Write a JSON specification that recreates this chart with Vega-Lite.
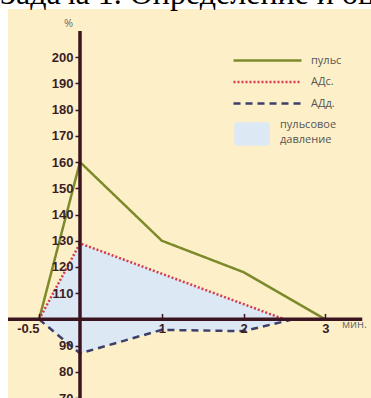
{
  "$schema": "https://vega.github.io/schema/vega-lite/v6.json",
  "width": 363,
  "height": 389,
  "autosize": {"type": "none"},
  "padding": {"left": 8, "top": 9, "right": 0, "bottom": 0},
  "background": "white",
  "title": {"text": "Задача 1. Определение и оценка", "anchor": "start", "frame": "group", "font": "Liberation Serif", "fontSize": 32, "fontWeight": "normal", "color": "#000000", "dx": -8, "dy": 2, "offset": 0},
  "config": {
    "view": {"fill": "#fdf0c8", "stroke": null},
    "axis": {"grid": false, "domain": false, "labelOverlap": false, "labelFont": "Liberation Sans", "labelFontWeight": "bold", "labelFontSize": 13, "labelColor": "#3b1e25", "tickColor": "#3a1520", "tickWidth": 1.5, "titleFont": "Open Sans", "titleFontWeight": "normal", "titleFontSize": 11, "titleColor": "#6a6a6a"}
  },
  "datasets": {
    "lines": [
      {"series": "пульс", "t": -0.5, "v": 100},
      {"series": "пульс", "t": 0, "v": 160},
      {"series": "пульс", "t": 1, "v": 130},
      {"series": "пульс", "t": 2, "v": 118},
      {"series": "пульс", "t": 3, "v": 100},
      {"series": "АДс.", "t": -0.5, "v": 100},
      {"series": "АДс.", "t": 0, "v": 129},
      {"series": "АДс.", "t": 2.5, "v": 100},
      {"series": "АДд.", "t": -0.5, "v": 100},
      {"series": "АДд.", "t": 0, "v": 87},
      {"series": "АДд.", "t": 1, "v": 96},
      {"series": "АДд.", "t": 2, "v": 95.5},
      {"series": "АДд.", "t": 2.6, "v": 100}
    ],
    "pulsePressure": [
      {"i": 1, "t": -0.5, "v": 100},
      {"i": 2, "t": 0, "v": 129},
      {"i": 3, "t": 2.5, "v": 100},
      {"i": 4, "t": 2.6, "v": 100},
      {"i": 5, "t": 2, "v": 95.5},
      {"i": 6, "t": 1, "v": 96},
      {"i": 7, "t": 0, "v": 87},
      {"i": 8, "t": -0.5, "v": 100}
    ],
    "one": [{}]
  },
  "layer": [
    {
      "data": {"name": "pulsePressure"},
      "mark": {"type": "line", "fill": "#dce8f4", "strokeOpacity": 0},
      "encoding": {
        "x": {"field": "t", "type": "quantitative", "scale": {"domain": [-0.88, 3.557], "nice": false, "zero": false}},
        "y": {"field": "v", "type": "quantitative", "scale": {"domain": [70, 218.4], "nice": false, "zero": false}},
        "order": {"field": "i", "type": "quantitative"}
      }
    },
    {
      "data": {"name": "lines"},
      "mark": {"type": "line", "strokeWidth": 2.5},
      "encoding": {
        "x": {"field": "t", "type": "quantitative", "scale": {"domain": [-0.88, 3.557], "nice": false, "zero": false},
          "axis": {"orient": "bottom", "offset": -78.6, "zindex": 3, "labelOverlap": false, "values": [-0.5, 1, 2, 3], "tickCount": 20, "format": "~g", "tickSize": -6, "labelPadding": 9.5, "labelFlush": false,
            "labelAlign": {"condition": {"test": "datum.value < 0", "value": "right"}, "value": "center"},
            "labelExpr": "replace(datum.label, '−', '-')",
            "title": "мин.", "titleX": 346, "titleY": 5, "titleAlign": "center", "titleBaseline": "middle"}},
        "y": {"field": "v", "type": "quantitative", "scale": {"domain": [70, 218.4], "nice": false, "zero": false},
          "axis": {"orient": "left", "offset": -72, "zindex": 3, "labelOverlap": false, "values": [70, 80, 90, 110, 120, 130, 140, 150, 160, 170, 180, 190, 200], "tickCount": 20, "tickSize": 5, "labelPadding": 2,
            "title": "%", "titleAngle": 0, "titleX": -12, "titleY": 14, "titleAlign": "center", "titleBaseline": "middle"}},
        "color": {"field": "series", "type": "nominal",
          "scale": {"domain": ["пульс", "АДс.", "АДд.", "пульсовое давление"], "range": ["#7d8a2b", "#d63a4f", "#3d3f6b", "#dce8f4"]},
          "legend": {"orient": "none", "legendX": 253, "legendY": 45, "title": null, "symbolSize": 100, "symbolStrokeWidth": 2.5,
            "labelFont": "Open Sans", "labelFontSize": 11, "labelColor": "#555555", "labelOffset": 37, "rowPadding": 9.5, "padding": 0,
            "labelExpr": "datum.label == 'пульсовое давление' ? ['пульсовое', 'давление'] : datum.label",
            "encode": {
              "symbols": {"update": {
                "shape": {"signal": "datum.value == 'пульсовое давление' ? 'M-6.4,-2.1H0.2V2.1H-6.4Z' : 'M-6.8,0H6.8'"},
                "fill": {"signal": "datum.value == 'пульсовое давление' ? '#dce8f4' : 'transparent'"},
                "dy": {"signal": "datum.value == 'пульсовое давление' ? -3 : 0"}}},
              "labels": {"update": {
                "dx": {"signal": "datum.value == 'пульсовое давление' ? -31 : 0"},
                "dy": {"signal": "datum.value == 'пульсовое давление' ? -9 : 0"},
                "lineHeight": {"value": 15}}}
            }}},
        "strokeDash": {"field": "series", "type": "nominal",
          "scale": {"domain": ["пульс", "АДс.", "АДд.", "пульсовое давление"], "range": [[1, 0], [2, 2], [7, 5], [1, 0]]},
          "legend": {"orient": "none", "legendX": 253, "legendY": 45, "title": null}}
      }
    },
    {
      "data": {"name": "one"},
      "mark": {"type": "rule", "color": "#3a1520", "strokeWidth": 3.5},
      "encoding": {
        "x": {"datum": 0, "type": "quantitative", "scale": {"domain": [-0.88, 3.557], "nice": false, "zero": false}},
        "y": {"datum": 70, "type": "quantitative", "scale": {"domain": [70, 218.4], "nice": false, "zero": false}},
        "y2": {"datum": 210}
      }
    },
    {
      "data": {"name": "one"},
      "mark": {"type": "rule", "color": "#3a1520", "strokeWidth": 3.5},
      "encoding": {
        "x": {"datum": -0.88, "type": "quantitative", "scale": {"domain": [-0.88, 3.557], "nice": false, "zero": false}},
        "x2": {"datum": 3.45},
        "y": {"datum": 100, "type": "quantitative", "scale": {"domain": [70, 218.4], "nice": false, "zero": false}}
      }
    }
  ]
}
